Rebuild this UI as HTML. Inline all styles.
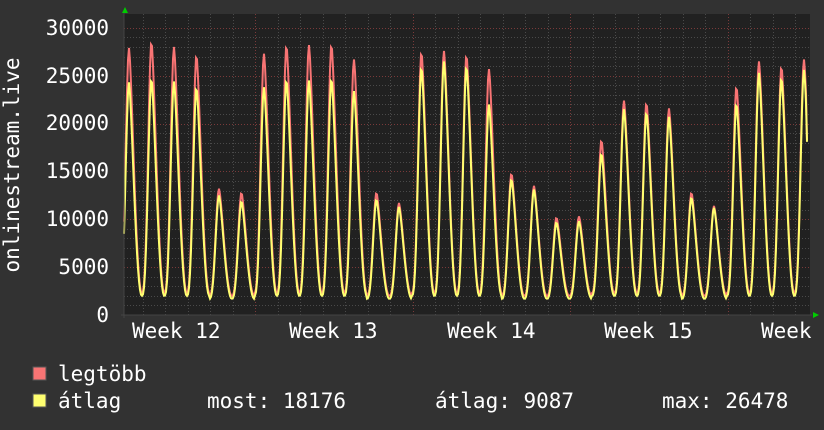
<!DOCTYPE html>
<html><head><meta charset="utf-8"><style>
html,body{margin:0;padding:0;background:#323232;}
svg{display:block}
text{font-family:"DejaVu Sans Mono","Liberation Mono",monospace;fill:#fff;font-size:21px}
</style></head><body>
<svg id="s" width="824" height="430" xmlns="http://www.w3.org/2000/svg">
<rect width="824" height="430" fill="#323232"/>
<rect x="124" y="14" width="686" height="301" fill="#212121"/>
<g id="grid"></g>
<path id="red" fill="none" stroke="#f87474" stroke-width="2"/>
<path id="yel" fill="none" stroke="#ffff70" stroke-width="2"/>
<line x1="124" y1="12" x2="124" y2="318" stroke="#444" stroke-width="1"/>
<line x1="121" y1="315" x2="812" y2="315" stroke="#444" stroke-width="1"/>
<polygon points="122,13 128,13 125,7" fill="#0c0"/>
<polygon points="813,312 813,318 819,315" fill="#0c0"/>
<g text-anchor="end">
<text x="109" y="35">30000</text>
<text x="109" y="130">20000</text>
<text x="109" y="83">25000</text>
<text x="109" y="178">15000</text>
<text x="109" y="226">10000</text>
<text x="109" y="274">5000</text>
<text x="109" y="322">0</text>
</g>
<text transform="translate(19,165) rotate(-90)" text-anchor="middle">onlinestream.live</text>
<text x="132" y="338">Week 12</text>
<text x="289" y="338">Week 13</text>
<text x="447" y="338">Week 14</text>
<text x="604" y="338">Week 15</text>
<text x="761" y="338">Week</text>
<rect x="33" y="367" width="13" height="13" fill="#f87474" stroke="#555"/>
<rect x="33" y="394" width="13" height="13" fill="#ffff70" stroke="#555"/>
<text x="58" y="381">legtöbb</text>
<text x="58" y="408">átlag</text>
<text x="207" y="408">most: 18176</text>
<text x="435" y="408">átlag: 9087</text>
<text x="662" y="408">max: 26478</text>
</svg>
<script>
var NS="http://www.w3.org/2000/svg";
var g=document.getElementById('grid');
function ln(x1,y1,x2,y2,c){var l=document.createElementNS(NS,'line');l.setAttribute('x1',x1);l.setAttribute('y1',y1);l.setAttribute('x2',x2);l.setAttribute('y2',y2);l.setAttribute('stroke',c);l.setAttribute('stroke-width',1);l.setAttribute('stroke-dasharray','1,2');g.appendChild(l);}
var Y=function(v){return 315-v*0.00957;};
for(var v=1000;v<=30000;v+=1000){var y=Math.round(Y(v))+0.5;ln(124,y,810,y,v%5000==0?'#7a3a3a':'#4a4a4a');}
for(var k=0;k<40;k++){var x=97.5+22.5*k;if(x<=124||x>=810)continue;var xx=Math.round(x)+0.5;ln(xx,14,xx,315,((k)%7==0)?'#7a3a3a':'#4a4a4a');}
var P=[[20000,18000],[27900,24300],[28600,24700],[28000,24400],[27200,23800],[13200,12500],[12800,11900],
[27300,23800],[28200,24600],[28200,24500],[28300,24700],[26700,23400],[12800,12100],[11700,11300],
[27500,25900],[27600,26500],[27200,26000],[25700,22000],[14800,14200],[13500,13100],[10200,9700],
[10300,9800],[18300,16900],[22400,21500],[22200,21200],[21600,20700],[12800,12300],[11400,11200],
[23900,22100],[26500,25300],[26000,24800],[26700,25600],[20000,18000]];
function val(x,i){
  var k=Math.round((x-106.5-1.55)/22.5);
  var c=106.5+22.5*k;var d=x-c;
  if(d<-9.7){k--;c-=22.5;d=x-c;} if(d>12.8){k++;c+=22.5;d=x-c;}
  if(k<0)k=0;if(k>=P.length)k=P.length-1;
  var pk=P[k][i],mn=i?2000:2300;if(pk<15000)mn-=300;
  var f;
  if(d<0){var u=(d+9.7)/9.7;f=0.5*(1-Math.cos(Math.PI*Math.pow(u,1.4)));}
  else{var u=d/12.8;f=0.5*(1+Math.cos(Math.PI*Math.pow(u,0.75)));}
  return mn+(pk-mn)*f;
}
['red','yel'].forEach(function(id,i){
  var s='';
  for(var x=124;x<=806;x+=1){s+=(x==124?'M':'L')+x+','+Y(val(x,i)).toFixed(1);}
  s+='L807,'+Y(i?18100:18300).toFixed(1);
  document.getElementById(id).setAttribute('d',s);
});
</script>
</body></html>
